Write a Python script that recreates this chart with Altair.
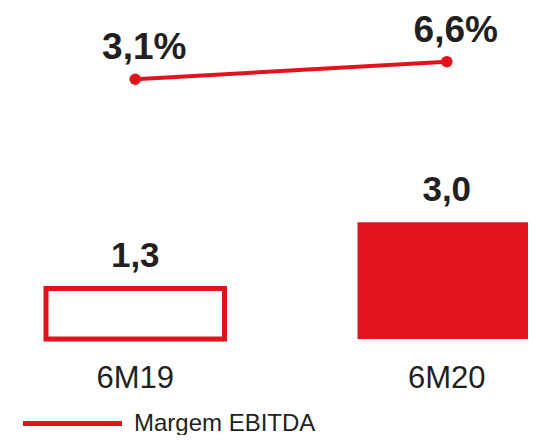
import altair as alt
import pandas as pd

periodos = ["6M19", "6M20"]
ebitda = [1.3, 3.0]
ebitda_lbl = ["1,3", "3,0"]
margem = [3.1, 6.6]
margem_lbl = ["3,1%", "6,6%"]
serie = "Margem EBITDA"

df = pd.DataFrame({
    "Periodo": periodos,
    "EBITDA": ebitda,
    "EBITDA_lbl": ebitda_lbl,
    "Margem": margem,
    "Margem_lbl": margem_lbl,
    "Serie": [serie] * len(periodos),
})

RED = "#E3131E"
TXT = "#231F20"
FONT = "Liberation Sans"

x = alt.X(
    "Periodo:N", sort=periodos, title=None,
    scale=alt.Scale(range=[0, 528], paddingInner=0.427, paddingOuter=0.061, align=1),
    axis=alt.Axis(domain=False, ticks=False, tickSize=0, labelFontSize=31,
                  labelColor=TXT, labelFont=FONT, labelPadding=24, labelAngle=0),
)

yb = alt.Y("EBITDA:Q", scale=alt.Scale(domain=[0, 8.51], nice=False, zero=True), axis=None)
yl = alt.Y("Margem:Q", scale=alt.Scale(domain=[-48.53, 17.27], nice=False, zero=False), axis=None)

base = alt.Chart(df)

bars = base.mark_bar(stroke=RED, strokeJoin="miter").encode(
    x=x, y=yb,
    fill=alt.condition(alt.datum.Periodo == "6M19", alt.value("#FFFFFF"), alt.value(RED)),
    strokeWidth=alt.condition(alt.datum.Periodo == "6M19", alt.value(5), alt.value(0)),
)

bar_labels = base.mark_text(font=FONT, fontSize=35, fontWeight="bold", color=TXT,
                            baseline="alphabetic", dy=-21).encode(
    x=x, y=yb, text="EBITDA_lbl:N")

line = base.mark_line(strokeWidth=4).encode(
    x=x, y=yl,
    color=alt.Color("Serie:N", scale=alt.Scale(domain=[serie], range=[RED]),
                    legend=alt.Legend(orient="none", legendX=52, legendY=403, title=None,
                                      symbolType="M-5,0H5", symbolSize=392,
                                      symbolStrokeWidth=5, labelFontSize=24,
                                      labelFont=FONT, labelColor=TXT, labelOffset=49,
                                      labelLimit=400, padding=0)),
)

points = base.mark_circle(size=133, opacity=1, color=RED).encode(x=x, y=yl)

line_labels = base.mark_text(font=FONT, fontSize=37, fontWeight="bold", color=TXT,
                             baseline="alphabetic", dy=-20, dx=9).encode(
    x=x, y=yl, text="Margem_lbl:N")

chart = alt.layer(bars, bar_labels, line, points, line_labels).resolve_scale(
    y="independent"
).properties(
    width=520, height=331,
    autosize=alt.AutoSizeParams(type="none"),
    padding={"left": 0, "top": 0, "right": 0, "bottom": 96},
).configure_view(stroke=None)

chart.save("out.html", embed_options={"renderer": "svg", "actions": False})
